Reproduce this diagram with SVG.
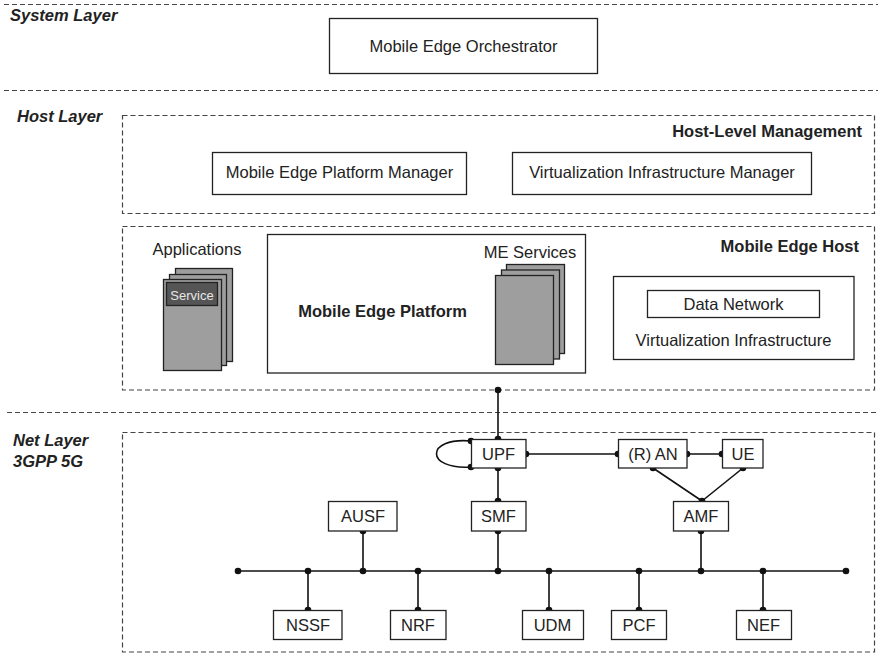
<svg xmlns="http://www.w3.org/2000/svg" width="878" height="654" viewBox="0 0 878 654">
<style>
text{font-family:"Liberation Sans",Arial,sans-serif;font-size:16.5px;fill:#222}
.c{text-anchor:middle}
.r{text-anchor:end}
.b{font-weight:bold}
.bi{font-weight:bold;font-style:italic}
.box{fill:#fff;stroke:#222;stroke-width:1.3}
.dash{fill:none;stroke:#444;stroke-width:1.2;stroke-dasharray:5,3}
.sheet{fill:#9e9e9e;stroke:#222;stroke-width:1.3}
.ln{fill:none;stroke:#111;stroke-width:1.6}
.dot{fill:#111}
</style>
<rect width="878" height="654" fill="#fff"/>

<g id="layers">
<line class="dash" x1="4" y1="4.5" x2="878" y2="4.5"/>
<line class="dash" x1="4" y1="90.5" x2="878" y2="90.5"/>
<line class="dash" x1="7" y1="412.5" x2="878" y2="412.5"/>
<text class="bi" x="10" y="21">System Layer</text>
<text class="bi" x="17" y="122">Host Layer</text>
<text class="bi" x="13" y="446">Net Layer</text>
<text class="bi" x="13" y="467">3GPP 5G</text>
</g>

<g id="orchestrator">
<rect class="box" x="329.5" y="18.5" width="268" height="55"/>
<text class="c" x="463.5" y="52">Mobile Edge Orchestrator</text>
</g>

<g id="host-level-management">
<rect class="dash" x="122.5" y="115.5" width="752" height="98"/>
<text class="b r" x="862" y="137">Host-Level Management</text>
</g>
<g id="mepm">
<rect class="box" x="212.5" y="152.5" width="254" height="42"/>
<text class="c" x="339.5" y="178">Mobile Edge Platform Manager</text>
</g>
<g id="vim">
<rect class="box" x="512.5" y="152.5" width="299" height="42"/>
<text class="c" x="662" y="178">Virtualization Infrastructure Manager</text>
</g>

<g id="mobile-edge-host">
<rect class="dash" x="122.5" y="226.5" width="752" height="163.5"/>
<text class="b r" x="859" y="252">Mobile Edge Host</text>
</g>

<g id="applications">
<text class="c" x="197" y="255">Applications</text>
<rect class="sheet" x="175.5" y="268.5" width="57" height="93"/>
<rect class="sheet" x="169.5" y="274.5" width="57" height="91"/>
<rect class="sheet" x="163.5" y="279.5" width="58" height="91"/>
<rect x="166.5" y="282.5" width="51" height="23" fill="#555" stroke="#222" stroke-width="1.3"/>
<text class="c" x="192" y="299.5" style="font-size:13px;fill:#e6e6e6">Service</text>
</g>

<g id="mobile-edge-platform">
<rect class="box" x="267.5" y="234.5" width="318" height="138.5"/>
<text class="b c" x="382.5" y="317">Mobile Edge Platform</text>
</g>

<g id="me-services">
<text class="c" x="530" y="258">ME Services</text>
<rect class="sheet" x="506.5" y="264.5" width="58" height="89"/>
<rect class="sheet" x="501.5" y="270" width="58" height="89"/>
<rect class="sheet" x="495.5" y="275.5" width="58" height="89"/>
</g>

<g id="virtualization-infrastructure">
<rect class="box" x="613.5" y="276.5" width="240.5" height="83"/>
<text class="c" x="733.5" y="346">Virtualization Infrastructure</text>
</g>
<g id="data-network">
<rect class="box" x="647.5" y="290.5" width="172" height="27"/>
<text class="c" x="733.5" y="310">Data Network</text>
</g>

<g id="net-layer">
<rect class="dash" x="122.5" y="432.5" width="752" height="219.5"/>
</g>

<g id="connectors">
<line class="ln" x1="498" y1="390" x2="498" y2="439"/>
<path class="ln" d="M471,441 C425,437 425,470 471,467"/>
<line class="ln" x1="526" y1="454" x2="618" y2="454"/>
<line class="ln" x1="687" y1="454" x2="722" y2="454"/>
<line class="ln" x1="653" y1="468" x2="702" y2="501"/>
<line class="ln" x1="743" y1="468" x2="702" y2="501"/>
<line class="ln" x1="498" y1="468" x2="498" y2="501"/>
<line class="ln" x1="238" y1="571" x2="846" y2="571"/>
<line class="ln" x1="363" y1="531" x2="363" y2="571"/>
<line class="ln" x1="498" y1="531" x2="498" y2="571"/>
<line class="ln" x1="701" y1="531" x2="701" y2="571"/>
<line class="ln" x1="308" y1="571" x2="308" y2="610"/>
<line class="ln" x1="418" y1="571" x2="418" y2="610"/>
<line class="ln" x1="549" y1="571" x2="549" y2="610"/>
<line class="ln" x1="639" y1="571" x2="639" y2="610"/>
<line class="ln" x1="763" y1="571" x2="763" y2="610"/>
<g class="dot">
<circle cx="498" cy="390" r="3.3"/>
<circle cx="498" cy="439" r="3.3"/>
<circle cx="498" cy="468" r="3.3"/>
<circle cx="471" cy="441" r="3.3"/>
<circle cx="471" cy="467" r="3.3"/>
<circle cx="526" cy="454" r="3.3"/>
<circle cx="618" cy="454" r="3.3"/>
<circle cx="687" cy="454" r="3.3"/>
<circle cx="722" cy="454" r="3.3"/>
<circle cx="653" cy="468" r="3.3"/>
<circle cx="743" cy="468" r="3.3"/>
<circle cx="702" cy="501" r="3.3"/>
<circle cx="498" cy="501" r="3.3"/>
<circle cx="363" cy="531" r="3.3"/>
<circle cx="498" cy="531" r="3.3"/>
<circle cx="701" cy="531" r="3.3"/>
<circle cx="238" cy="571" r="3.3"/>
<circle cx="846" cy="571" r="3.3"/>
<circle cx="308" cy="571" r="3.3"/>
<circle cx="363" cy="571" r="3.3"/>
<circle cx="418" cy="571" r="3.3"/>
<circle cx="498" cy="571" r="3.3"/>
<circle cx="549" cy="571" r="3.3"/>
<circle cx="639" cy="571" r="3.3"/>
<circle cx="701" cy="571" r="3.3"/>
<circle cx="763" cy="571" r="3.3"/>
<circle cx="308" cy="610" r="3.3"/>
<circle cx="418" cy="610" r="3.3"/>
<circle cx="549" cy="610" r="3.3"/>
<circle cx="639" cy="610" r="3.3"/>
<circle cx="763" cy="610" r="3.3"/>
</g>
</g>

<g id="upf"><rect class="box" x="471.5" y="439.5" width="54.5" height="28.5"/><text class="c" x="498.5" y="460">UPF</text></g>
<g id="ran"><rect class="box" x="618.5" y="439.5" width="68.5" height="28.5"/><text class="c" x="653" y="460">(R) AN</text></g>
<g id="ue"><rect class="box" x="722.5" y="439.5" width="40.5" height="28.5"/><text class="c" x="743" y="460">UE</text></g>
<g id="ausf"><rect class="box" x="328.5" y="501.5" width="68.5" height="29.5"/><text class="c" x="363" y="522">AUSF</text></g>
<g id="smf"><rect class="box" x="471.5" y="501.5" width="54.5" height="29.5"/><text class="c" x="498.5" y="522">SMF</text></g>
<g id="amf"><rect class="box" x="673.5" y="501.5" width="55" height="29.5"/><text class="c" x="701" y="522">AMF</text></g>
<g id="nssf"><rect class="box" x="273.5" y="610.5" width="68.5" height="29"/><text class="c" x="308" y="631">NSSF</text></g>
<g id="nrf"><rect class="box" x="390.5" y="610.5" width="55.5" height="29"/><text class="c" x="418" y="631">NRF</text></g>
<g id="udm"><rect class="box" x="522.5" y="610.5" width="61" height="29"/><text class="c" x="552.5" y="631">UDM</text></g>
<g id="pcf"><rect class="box" x="611.5" y="610.5" width="55" height="29"/><text class="c" x="639" y="631">PCF</text></g>
<g id="nef"><rect class="box" x="736.5" y="610.5" width="55" height="29"/><text class="c" x="763.5" y="631">NEF</text></g>
</svg>
